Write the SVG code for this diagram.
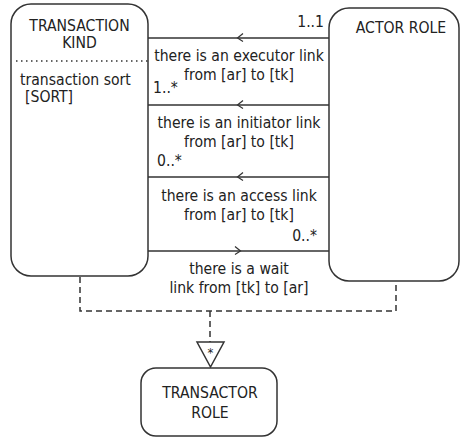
<svg xmlns="http://www.w3.org/2000/svg" width="460" height="438" viewBox="0 0 460 438">
  <style>
    .box { fill: #ffffff; stroke: #333333; stroke-width: 1.5; }
    .link { fill: none; stroke: #333333; stroke-width: 1.5; }
    .head { fill: none; stroke: #333333; stroke-width: 1.2; }
    .dash { fill: none; stroke: #333333; stroke-width: 1.5; stroke-dasharray: 6 4; }
    .dots { fill: none; stroke: #333333; stroke-width: 1.5; stroke-dasharray: 1.5 3.5; }
    text { font-family: "DejaVu Sans Condensed", "DejaVu Sans", sans-serif; font-stretch: condensed; font-size: 15.6px; fill: #222222; }
    .c { text-anchor: middle; }
    .r { text-anchor: end; }
  </style>
  <rect width="460" height="438" fill="#ffffff"/>

  <g id="connectors">
    <!-- relations between TRANSACTION KIND and ACTOR ROLE -->
    <line class="link" x1="148" y1="38" x2="329" y2="38"/>
    <polyline class="head" points="243,33.5 237.5,38 243,41.5"/>
    <line class="link" x1="148" y1="105" x2="329" y2="105"/>
    <polyline class="head" points="243,100.5 237.5,105 243,108.5"/>
    <line class="link" x1="148" y1="177" x2="329" y2="177"/>
    <polyline class="head" points="243,172.5 237.5,177 243,180.5"/>
    <line class="link" x1="148" y1="251" x2="329" y2="251"/>
    <polyline class="head" points="235,246.5 240.5,251 235,254.5"/>

    <!-- specialisation towards TRANSACTOR ROLE -->
    <polyline class="dash" points="80,277 80,311 396,311 396,282"/>
    <line class="dash" x1="210" y1="311" x2="210" y2="342"/>
    <polygon class="link" points="197,342 224,342 210.5,367"/>
    <text class="c" x="210.5" y="357" style="font-size:13px">*</text>
  </g>

  <g id="transaction-kind">
    <rect class="box" x="11" y="4" width="137" height="272" rx="20" ry="20"/>
    <text class="c" x="79.5" y="31">TRANSACTION</text>
    <text class="c" x="79.5" y="48">KIND</text>
    <line class="dots" x1="16" y1="61" x2="150" y2="61"/>
    <text x="20" y="85">transaction sort</text>
    <text x="25" y="102">[SORT]</text>
  </g>

  <g id="actor-role">
    <rect class="box" x="329" y="8" width="130" height="273" rx="20" ry="20"/>
    <text class="c" x="401" y="33">ACTOR ROLE</text>
  </g>

  <g id="executor-link">
    <text class="r" x="324" y="27">1..1</text>
    <text class="c" x="239" y="61">there is an executor link</text>
    <text class="c" x="239" y="80">from [ar] to [tk]</text>
    <text x="153" y="93">1..*</text>
  </g>

  <g id="initiator-link">
    <text class="c" x="239" y="128">there is an initiator link</text>
    <text class="c" x="239" y="147">from [ar] to [tk]</text>
    <text x="157" y="166">0..*</text>
  </g>

  <g id="access-link">
    <text class="c" x="239" y="201">there is an access link</text>
    <text class="c" x="239" y="220">from [ar] to [tk]</text>
    <text class="r" x="317" y="241">0..*</text>
  </g>

  <g id="wait-link">
    <text class="c" x="239" y="274">there is a wait</text>
    <text class="c" x="239" y="293">link from [tk] to [ar]</text>
  </g>

  <g id="transactor-role">
    <rect class="box" x="141" y="368" width="136" height="68" rx="15" ry="15"/>
    <text class="c" x="210" y="398">TRANSACTOR</text>
    <text class="c" x="210" y="418">ROLE</text>
  </g>
</svg>
